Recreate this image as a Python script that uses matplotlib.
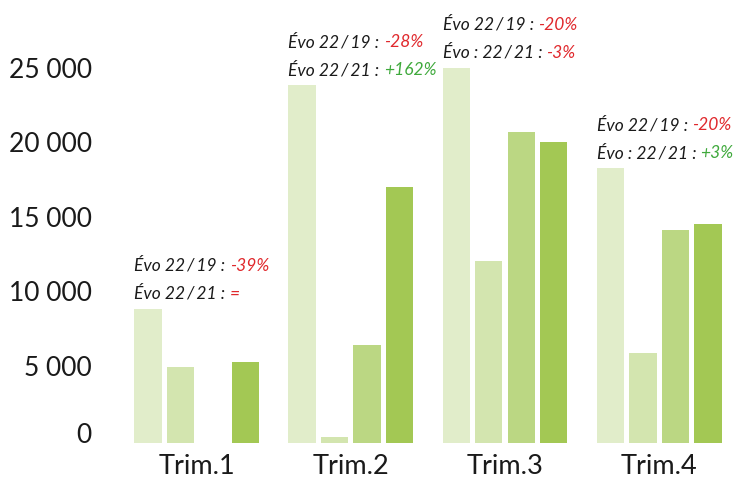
import numpy as np
import matplotlib.pyplot as plt
import matplotlib.transforms as mtransforms

plt.rcParams['font.family'] = ['Lato', 'DejaVu Sans']

quarters = ['Trim.1', 'Trim.2', 'Trim.3', 'Trim.4']
v2019 = [9000, 24000, 25200, 18450]
v2020 = [5100, 400, 12200, 6050]
v2021 = [0, 6570, 20850, 14320]
v2022 = [5450, 17200, 20200, 14730]
colors = ['#e1edca', '#d3e5af', '#bbd783', '#a3c854']

evo_prefix_19 = ['Évo 22\u2009/\u200919 : '] * 4
evo_value_19 = ['-39%', '-28%', '-20%', '-20%']
evo_prefix_21 = ['Évo 22\u2009/\u200921 : ', 'Évo 22\u2009/\u200921 : ',
                 'Évo : 22\u2009/\u200921 : ', 'Évo : 22\u2009/\u200921 : ']
evo_value_21 = ['=', '+162%', '-3%', '+3%']

RED = '#e0282c'
GREEN = '#3fa93c'


def evo_color(txt):
    return GREEN if txt.startswith('+') else RED


fig = plt.figure(figsize=(7.34, 4.78), dpi=100)
ax = fig.add_axes([0.163, 0.0732, 0.84, 0.91])

x = np.arange(len(quarters))
step = 0.211
width = 0.177
series = [v2019, v2020, v2021, v2022]
for i, vals in enumerate(series):
    ax.bar(x + (i - 1.5) * step, vals, width, color=colors[i], zorder=2)

yt = np.arange(0, 25001, 5000)
ax.set_xlim(-0.5, 3.5)
ax.set_ylim(0, 29200)
ax.set_yticks(yt)
ax.set_yticklabels([f'{int(v):,}'.replace(',', ' ') for v in yt])
ax.set_xticks(x)
ax.set_xticklabels(quarters)
ax.tick_params(axis='y', length=0, pad=20, labelsize=19, colors='#1a1a1a')
ax.tick_params(axis='x', length=0, pad=8, labelsize=19.5, colors='#1a1a1a')
for s in ax.spines.values():
    s.set_visible(False)

# shift y labels a bit: the 0 sits higher, like the original
for j, lab in enumerate(ax.get_yticklabels()):
    dy = 10 if j == 0 else 3
    lab.set_transform(lab.get_transform() +
                      mtransforms.ScaledTranslation(0, dy / 100, fig.dpi_scale_trans))

ann_font = dict(fontsize=12.5, style='italic')
for k in range(len(quarters)):
    left = x[k] - 1.5 * step - width / 2
    top = max(v2019[k], v2020[k], v2021[k], v2022[k])
    t2 = ax.annotate(evo_prefix_21[k], xy=(left, top), xytext=(0, 10),
                     textcoords='offset pixels', ha='left', va='baseline',
                     color='#1a1a1a', **ann_font)
    ax.annotate(evo_value_21[k], xy=(1, 0), xycoords=t2, ha='left', va='bottom',
                color=evo_color(evo_value_21[k]), **ann_font)
    t1 = ax.annotate(evo_prefix_19[k], xy=(left, top), xytext=(0, 38),
                     textcoords='offset pixels', ha='left', va='baseline',
                     color='#1a1a1a', **ann_font)
    ax.annotate(evo_value_19[k], xy=(1, 0), xycoords=t1, ha='left', va='bottom',
                color=evo_color(evo_value_19[k]), **ann_font)

fig.savefig('out.png', dpi=100)
